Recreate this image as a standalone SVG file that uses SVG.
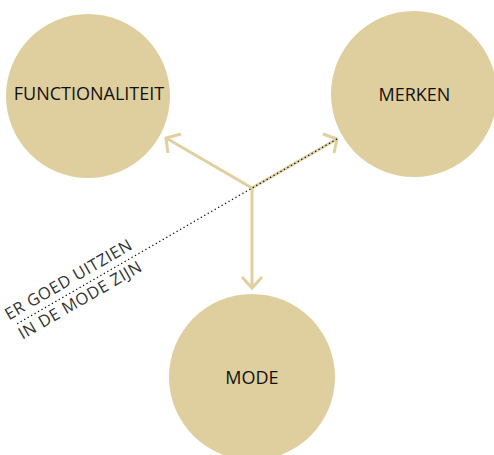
<svg xmlns="http://www.w3.org/2000/svg" width="494" height="455" viewBox="0 0 494 455">
<style>
.node circle{fill:#dfce9e}
.lbl{font-family:"Open Sans","Liberation Sans",sans-serif;font-size:18px;fill:#111;text-anchor:middle}
.arr{stroke:#e0cf9f;stroke-width:3;fill:none;stroke-linecap:butt}
.dot{stroke:#111;stroke-width:1.3;stroke-dasharray:1.3 2.7;fill:none}
.side{font-family:"Open Sans","Liberation Sans",sans-serif;font-size:16.5px;letter-spacing:0.6px;fill:#333}
</style>
<rect width="494" height="455" fill="#fff"/>
<g id="functionaliteit" class="node"><circle cx="88" cy="96" r="82"/><text class="lbl" x="89" y="100">FUNCTIONALITEIT</text></g>
<g id="merken" class="node"><circle cx="414" cy="94" r="83"/><text class="lbl" x="414.5" y="100.5">MERKEN</text></g>
<g id="mode" class="node"><circle cx="252" cy="377" r="83"/><text class="lbl" x="252" y="384">MODE</text></g>
<g id="connectors">
<path class="arr" d="M252,188 L166,138 M252,188 L337,139 M252,188 L252,288"/>
<path class="arr" d="M181,134 L166,138 L168,153"/>
<path class="arr" d="M323,134 L337,139 L334,153"/>
<path class="arr" d="M242,277 L252,288 L262,277"/>
<path class="dot" d="M337,139 L15,325"/>
</g>
<g id="annotation" transform="translate(15,325) rotate(-30)">
<text class="side" x="-3" y="-7">ER GOED UITZIEN</text>
<text class="side" x="-1" y="16.5">IN DE MODE ZIJN</text>
</g>
</svg>
